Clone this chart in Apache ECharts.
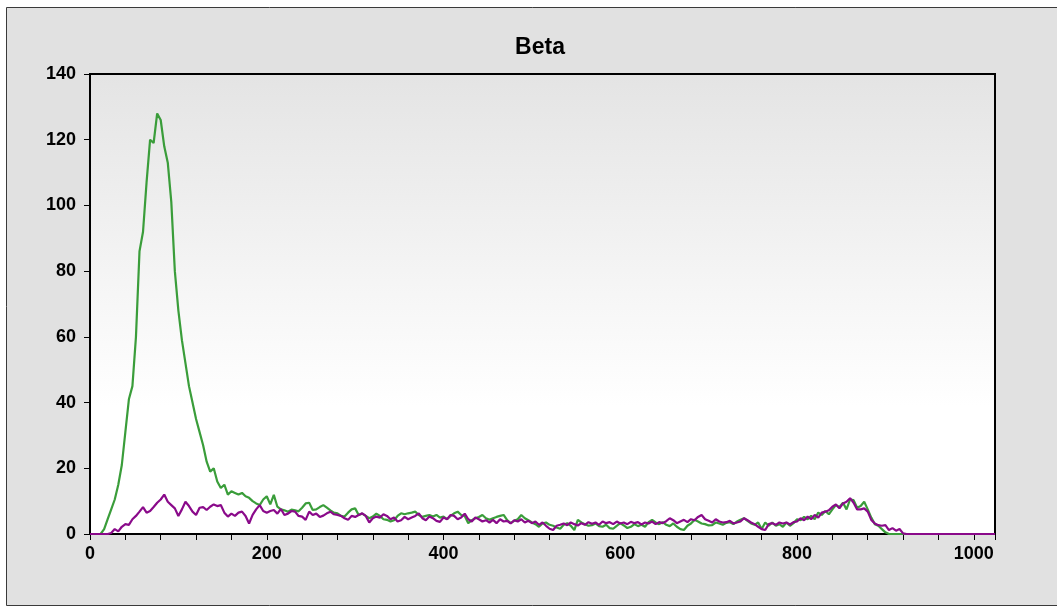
<!DOCTYPE html>
<html>
<head>
<meta charset="utf-8">
<script src="https://cdn.jsdelivr.net/npm/echarts@6/dist/echarts.min.js"></script>
<style>
html,body{margin:0;padding:0;background:#ffffff;}
#chart{width:1057px;height:607px;}
</style>
</head>
<body>
<div id="chart"></div>
<script>
// Channel step between consecutive values (channels 0,4,8,...,1024)
const CHANNEL_STEP = 4;

const X_TICK_STEP = 40;
const X_LABELS = [0, 200, 400, 600, 800, 1000];
const Y_TICKS = [0, 20, 40, 60, 80, 100, 120, 140];

const TITLE = 'Beta';

// Green series
const greenValues = [
  0,0,0,0,1.5,4.5,7.5,10.5,15,21,
  31,41,45,60,86,92,107,120,119,128,
  126,118,113,101,80,68,59,52,45,40,
  35,31,27,22,19,20,16,14,15,12,
  13,12.5,12,12.5,11.5,11,10,9.3,8.8,10.5,
  11.5,9,11.9,8.3,7.5,7.2,6.8,7.4,7.2,6.9,
  8,9.3,9.5,7.3,7.5,8.2,8.8,8,7.2,6.5,
  6.3,5.5,5.3,6.5,7.5,7.8,5.8,6.2,5.5,4.8,
  5.3,6.2,5.5,4.5,4.3,3.8,4.2,5.5,6.3,6,
  6.3,6.5,6.8,5.8,5.2,5.5,5.8,5.3,5.8,5,
  5.3,4.5,5.5,6.3,6.8,5.8,5.5,3.3,4.2,4.8,
  5.2,5.8,4.8,4.3,4.8,5.2,5.5,5.8,4.2,3.3,
  4,4.5,5.8,4.8,4.2,3.5,3,2.2,3.2,3.5,
  2.8,2.5,2,1.6,2.8,3.3,2.5,1.2,4.3,3.5,
  3,2.5,2.7,3.2,2.4,2.2,2.8,1.8,1.6,2.5,
  3.3,2.6,1.8,2.2,3,2.4,2.8,2.2,3.6,4.3,
  3.5,3,3.6,2.8,2.4,3.2,2.2,1.5,1.2,2.5,
  3.2,4.3,3.8,3.2,3,2.6,2.7,3.5,3.2,2.8,
  3.4,3.6,3,3.8,4.3,4.8,4,3.2,2.8,3.5,
  1.5,3.5,2.5,3.5,2.5,3,2.2,3.5,2.5,3.3,
  4.5,4.2,5.2,4.5,5.5,4.5,6.5,5.8,7,6,
  7.5,8.8,8.2,9.5,7.5,10.5,10.3,8,8.5,9.8,
  7.5,5,3,2.5,1.5,0.5,0,0,0,0,
  0,0,0,0,0,0,0,0,0,0,
  0,0,0,0,0,0,0,0,0,0,
  0,0,0,0,0,0,0
];

// Purple series
const purpleValues = [
  0,0,0,0,0,0,0.3,1.5,0.8,2.2,
  3,2.8,4.5,5.5,6.8,8.2,6.5,7,8.2,9.5,
  10.5,12,9.8,8.8,7.8,5.5,7.5,9.8,8.5,6.8,
  5.8,8,8.2,7.3,8.3,9,8.5,8.8,6.5,5.3,
  6.2,5.5,6.5,6.8,5.5,3.2,5.8,7.5,8.8,7,
  6.5,7,7.3,6.2,7.6,5.8,6.2,7,6.8,5.5,
  5.3,4.3,6.8,5.8,6.2,5.2,5.6,6.3,6.8,6,
  5.8,5.5,4.8,4.3,5.5,5.2,5.8,6.3,5.5,3.5,
  4.8,5.3,5,6,5.5,4.5,5,3.8,4.2,5.2,
  4.5,5,5.5,6.3,4.8,4.2,5.3,4.8,4,3.7,
  5,4.5,5.8,5.5,4.5,5,6.2,4.5,3.8,5,
  4.5,3.8,4.2,3.5,4.3,3.3,4.5,3.8,4,3.2,
  4.2,3.8,4.5,3.5,4,3.3,3.8,2.8,3.5,2.5,
  1.6,1.2,2.5,2.8,3.2,2.7,3.5,3,2.6,3.3,
  2.8,3.6,3.1,3.5,2.8,3.8,3.3,3.6,3,3.8,
  3.2,3.5,3,3.7,3.3,3.6,2.9,3.5,3.2,3.8,
  3,3.6,3.3,3.9,4.8,4.2,3.3,3.8,4.3,3.6,
  4.5,4.2,5.2,5.8,4.5,4,3.5,4.5,3.8,3.5,
  3.6,4,3.2,3.5,3.8,4.8,4.2,3.5,3,2.2,
  1.5,1.2,3,3.3,2.8,3.5,3.2,3.5,2.9,3.6,
  3.8,4.8,4.2,5.3,4.5,5.8,5,6.5,6.8,7.2,
  8.3,9,7.8,9.3,9.8,10.9,9.5,7.5,7.5,7.8,
  6.8,4.3,3.2,2.7,2.5,2.7,1.2,1.8,1,1.5,
  0.2,0,0,0,0,0,0,0,0,0,
  0,0,0,0,0,0,0,0,0,0,
  0,0,0,0,0,0,0
];

const toPairs = arr => arr.map((v, i) => [i * CHANNEL_STEP, v]);

const chart = echarts.init(document.getElementById('chart'), null, {renderer: 'canvas'});
const labelFont = {fontFamily: '"Liberation Sans", Arial, sans-serif', fontWeight: 'bold', fontSize: 18, color: '#000'};

chart.setOption({
  backgroundColor: 'transparent',
  animation: false,
  graphic: [{
    type: 'rect', z: -10, silent: true,
    shape: {x: 6.5, y: 7.5, width: 1060, height: 598},
    style: {fill: '#e1e1e1', stroke: '#3a3a3a', lineWidth: 1}
  }],
  title: {
    text: TITLE,
    left: 535, top: 31, textAlign: 'center',
    textStyle: {fontFamily: '"Liberation Sans", Arial, sans-serif', fontWeight: 'bold', fontSize: 23, color: '#000'}
  },
  grid: {
    left: 90, top: 74, right: 62, bottom: 73,
    show: true, borderColor: '#000', borderWidth: 2,
    backgroundColor: {
      type: 'linear', x: 0, y: 0, x2: 0, y2: 1,
      colorStops: [{offset: 0, color: '#e4e4e4'}, {offset: 0.72, color: '#ffffff'}, {offset: 1, color: '#ffffff'}]
    }
  },
  xAxis: {
    type: 'value', min: 0, max: 1024, interval: X_TICK_STEP,
    axisLine: {show: true, onZero: false, lineStyle: {color: '#000', width: 2}},
    axisTick: {show: true, length: 6, lineStyle: {color: '#000', width: 1}},
    axisLabel: Object.assign({
      margin: 11,
      formatter: v => (X_LABELS.indexOf(v) >= 0 ? String(v) : '')
    }, labelFont),
    splitLine: {show: false}
  },
  yAxis: {
    type: 'value', min: 0, max: 140, interval: 20,
    axisLine: {show: true, onZero: false, lineStyle: {color: '#000', width: 2}},
    axisTick: {show: true, length: 6, lineStyle: {color: '#000', width: 1}},
    axisLabel: Object.assign({margin: 14, formatter: v => (Y_TICKS.indexOf(v) >= 0 ? String(v) : '')}, labelFont),
    splitLine: {show: false}
  },
  series: [{
    name: 'Green', type: 'line', data: toPairs(greenValues),
    showSymbol: false, symbol: 'none', sampling: 'none',
    lineStyle: {color: '#3a9d3a', width: 2.2}, z: 2
  }, {
    name: 'Purple', type: 'line', data: toPairs(purpleValues),
    showSymbol: false, symbol: 'none', sampling: 'none',
    lineStyle: {color: '#8a0a8a', width: 2.2}, z: 3
  }]
});
</script>
</body>
</html>
